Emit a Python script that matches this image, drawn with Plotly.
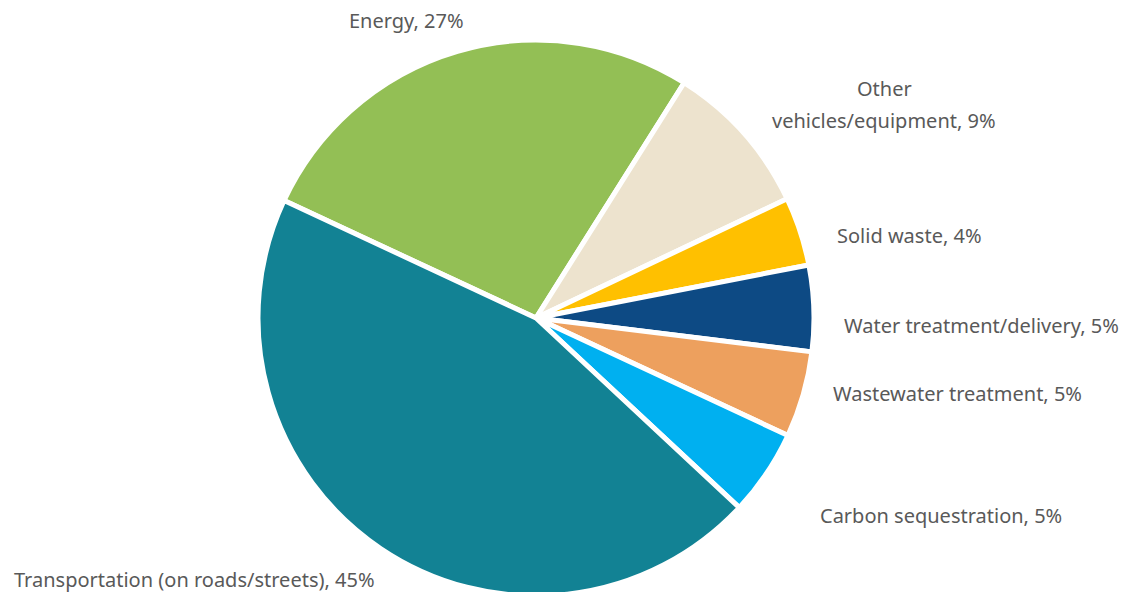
import plotly.graph_objects as go

labels = ["Energy", "Other<br>vehicles/equipment", "Solid waste", "Water treatment/delivery",
          "Wastewater treatment", "Carbon sequestration", "Transportation (on roads/streets)"]
values = [27, 9, 4, 5, 5, 5, 45]
colors = ["#93BF55", "#EDE3CE", "#FFC000", "#0D4A84", "#EDA05E", "#00B0F0", "#128294"]

# label placement in page pixels: x, y (middle), xanchor
label_pos = [
    (466, 21, "right"),
    (884, 104, "center"),
    (835, 235, "left"),
    (842, 325, "left"),
    (831, 393, "left"),
    (818, 515, "left"),
    (12, 579, "left"),
]

W, H = 1130, 592
OFF = 8            # page body margin of the html page
T, B = 32, 4       # plot area margins
total = sum(values)

fig = go.Figure(go.Pie(
    labels=labels, values=values, sort=False, direction="clockwise", rotation=295,
    marker=dict(colors=colors, line=dict(color="white", width=5)),
    textinfo="none",
    showlegend=False,
    hovertemplate="%{label}, %{percent:.0%}<extra></extra>",
    domain=dict(x=[0, 0.9345], y=[0, 1]),
))

annotations = []
for lab, val, (px, py, xa) in zip(labels, values, label_pos):
    lines = lab.split("<br>")
    lines[-1] = f"{lines[-1]}, {round(100 * val / total)}%"
    step = 32
    y0 = py - step * (len(lines) - 1) / 2
    for i, line in enumerate(lines):
        fy = y0 + i * step - OFF
        annotations.append(dict(
            text=line, x=(px - OFF) / W, y=1 - (fy - T) / (H - T - B),
            xref="paper", yref="paper", xanchor=xa, yanchor="middle",
            showarrow=False,
            font=dict(family="Noto Sans", size=20, color="#595959"),
        ))

fig.update_layout(
    width=W, height=H,
    margin=dict(l=0, r=0, t=T, b=B),
    paper_bgcolor="white", plot_bgcolor="white",
    annotations=annotations,
)
fig.write_html("out.html")
